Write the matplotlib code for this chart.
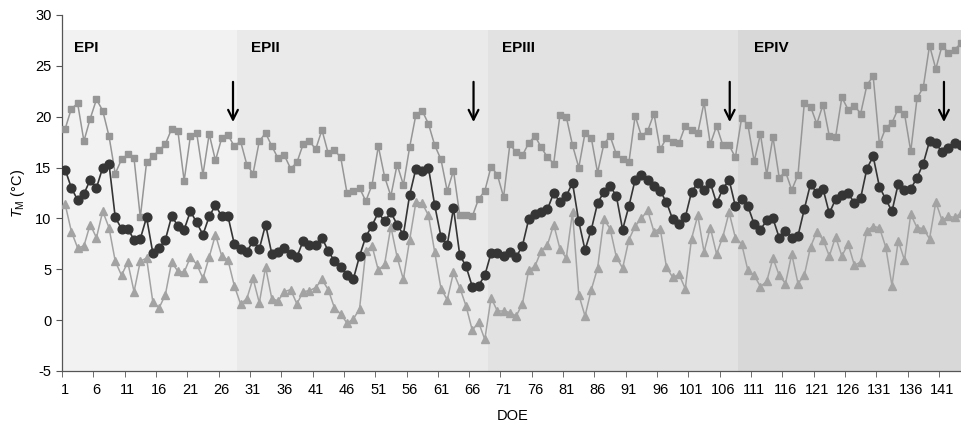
import numpy as np
import matplotlib
matplotlib.use("Agg")
import matplotlib.pyplot as plt

plt.rcParams['font.family'] = ['Liberation Sans', 'DejaVu Sans']
plt.rcParams['mathtext.fontset'] = 'custom'
plt.rcParams['mathtext.rm'] = 'Liberation Sans'
plt.rcParams['mathtext.it'] = 'Liberation Sans:italic'
plt.rcParams['axes.unicode_minus'] = False

# daily max / mean / min temperature, DOE 1..144
t_max = [18.8, 20.8, 21.3, 17.6, 19.8, 21.7, 20.6, 18.1, 14.4, 15.8,
         16.3, 15.9, 10.1, 15.5, 16.1, 16.7, 17.3, 18.8, 18.6, 13.7,
         18.1, 18.4, 14.3, 18.3, 15.7, 17.9, 18.2, 17.1, 17.6, 15.3,
         14.4, 17.6, 18.4, 17.1, 15.9, 16.2, 14.9, 15.5, 17.3, 17.6,
         16.8, 18.7, 16.4, 16.7, 16.0, 12.5, 12.7, 13.0, 11.7, 13.3,
         17.1, 14.1, 12.2, 15.3, 13.3, 17.0, 20.2, 20.6, 19.3, 17.2,
         15.8, 12.7, 14.7, 10.3, 10.3, 10.2, 11.9, 12.7, 15.1, 14.3,
         12.1, 17.3, 16.5, 16.2, 17.4, 18.1, 17.0, 16.0, 15.4, 20.2,
         20.0, 17.2, 15.0, 18.4, 17.9, 14.5, 17.3, 18.1, 16.3, 15.8,
         15.5, 20.1, 18.1, 18.6, 20.3, 16.8, 17.9, 17.5, 17.4, 19.1,
         18.7, 18.4, 21.4, 17.3, 19.1, 17.2, 17.2, 16.0, 19.9, 19.2,
         15.6, 18.3, 14.3, 18.0, 14.0, 14.6, 12.8, 14.3, 21.3, 21.0,
         19.3, 21.2, 18.1, 18.0, 21.9, 20.7, 21.1, 20.3, 23.1, 24.0,
         17.3, 18.9, 19.4, 20.8, 20.3, 16.6, 21.8, 22.9, 27.0, 24.7,
         27.0, 26.3, 26.6, 27.2]

t_mean = [14.8, 13.0, 11.8, 12.4, 13.8, 13.0, 15.0, 15.4, 10.1, 9.0,
          9.0, 7.9, 8.0, 10.1, 6.6, 7.1, 7.9, 10.2, 9.3, 8.9,
          10.7, 9.6, 8.4, 10.2, 11.3, 10.2, 10.2, 7.5, 7.0, 6.7,
          7.8, 7.0, 9.4, 6.5, 6.7, 7.1, 6.5, 6.2, 7.8, 7.4,
          7.4, 8.1, 6.8, 5.8, 5.2, 4.4, 4.0, 6.3, 8.2, 9.3,
          10.6, 9.7, 10.6, 9.4, 8.4, 12.3, 14.9, 14.7, 15.0, 11.3,
          8.2, 7.4, 11.0, 6.4, 5.3, 3.3, 3.4, 4.4, 6.6, 6.6,
          6.3, 6.7, 6.2, 7.3, 9.9, 10.4, 10.6, 10.9, 12.5, 11.6,
          12.2, 13.5, 9.7, 6.9, 8.9, 11.5, 12.6, 13.2, 12.2, 8.9,
          11.2, 13.8, 14.3, 13.8, 13.2, 12.7, 11.6, 9.9, 9.5, 10.1,
          12.6, 13.5, 12.8, 13.5, 11.5, 12.9, 13.8, 11.2, 11.9, 11.2,
          9.45, 8.9, 9.8, 10.0, 8.1, 8.8, 8.1, 8.3, 10.9, 13.4,
          12.5, 12.9, 10.5, 11.9, 12.3, 12.5, 11.5, 12.0, 14.9, 16.1,
          13.1, 11.9, 10.7, 13.4, 12.8, 12.9, 14.0, 15.4, 17.6, 17.4,
          16.5, 16.9, 17.4, 17.2]

t_min = [11.4, 8.7, 7.1, 7.3, 9.4, 8.1, 10.7, 9.1, 5.8, 4.4,
         5.7, 2.8, 5.8, 6.1, 1.8, 1.2, 2.5, 5.7, 4.8, 4.7,
         6.2, 5.5, 4.1, 6.2, 8.4, 6.3, 5.9, 3.4, 1.6, 2.1,
         4.1, 1.7, 5.2, 2.1, 1.9, 2.8, 3.0, 1.6, 2.8, 2.9,
         3.2, 4.0, 3.0, 1.2, 0.6, -0.3, 0.1, 1.1, 6.8, 7.3,
         4.9, 5.5, 9.2, 6.2, 4.0, 7.9, 11.6, 11.5, 10.3, 6.7,
         3.1, 2.0, 4.7, 3.2, 1.4, -1.0, -0.2, -1.9, 2.2, 0.9,
         0.9, 0.75, 0.4, 1.6, 4.9, 5.3, 6.8, 7.4, 9.4, 7.0,
         6.1, 10.6, 2.5, 0.4, 3.0, 5.1, 9.9, 9.0, 6.2, 5.1,
         7.9, 9.25, 10.0, 10.8, 8.7, 9.0, 5.2, 4.2, 4.5, 3.1,
         8.0, 10.3, 6.7, 9.1, 6.5, 8.2, 10.6, 8.1, 7.5, 4.9,
         4.4, 3.3, 3.8, 6.1, 4.4, 3.6, 6.5, 3.6, 4.4, 7.2,
         8.7, 7.9, 6.3, 8.2, 6.3, 7.5, 5.4, 5.7, 8.8, 9.2,
         9.1, 7.2, 3.4, 7.8, 5.9, 10.4, 9.1, 9.0, 8.0, 11.6,
         9.8, 10.2, 10.1, 10.5]

days = np.arange(1, len(t_mean) + 1)

# experimental periods
periods = ['EPI', 'EPII', 'EPIII', 'EPIV']
period_start = [0.5, 28.5, 68.5, 108.5]
period_end = [28.5, 68.5, 108.5, 144.5]
period_color = ['#f2f2f2', '#eaeaea', '#e2e2e2', '#d8d8d8']
label_x = [2.4, 30.6, 70.7, 110.9]
arrow_days = [27.8, 66.2, 107.1, 141.3]

fig = plt.figure(figsize=(9.62, 4.30), dpi=100)
ax = fig.add_axes([62 / 962, 59 / 430, 902 / 962, 356 / 430])

for s, e, c in zip(period_start, period_end, period_color):
    ax.bar(s, 28.5 + 5, bottom=-5, width=e - s, align='edge', color=c,
           linewidth=0, zorder=0)
for name, lx in zip(periods, label_x):
    ax.text(lx, 26.8, name, fontsize=11, fontweight='bold', va='center',
            ha='left', zorder=5)
for d in arrow_days:
    ax.annotate('', xy=(d, 19.2), xytext=(d, 23.7),
                arrowprops=dict(arrowstyle='->,head_width=0.35,head_length=0.7',
                                color='black', lw=1.6), zorder=6)

ax.plot(days, t_max, color='#969696', marker='s', markersize=4.6, lw=1.1,
        zorder=3)
ax.plot(days, t_min, color='#a3a3a3', marker='^', markersize=5.6, lw=1.1,
        zorder=3)
ax.plot(days, t_mean, color='#353535', marker='o', markersize=6.3, lw=1.2,
        zorder=4)

ax.set_xlim(0.5, 144.5)
ax.set_ylim(-5, 30)
ax.set_yticks(np.arange(-5, 31, 5))
ax.set_xticks(np.arange(1, 145, 5))
ax.set_xticks(np.arange(0.5, 145, 5), minor=True)
ax.tick_params(axis='x', which='major', length=0, labelsize=10.5, pad=9)
ax.tick_params(axis='x', which='minor', length=4, color='#555555')
ax.tick_params(axis='y', length=4, labelsize=10.5, color='#555555')
for side in ['top', 'right']:
    ax.spines[side].set_visible(False)
for side in ['left', 'bottom']:
    ax.spines[side].set_color('#555555')
    ax.spines[side].set_linewidth(0.9)

ax.set_xlabel('DOE', fontsize=10.5, labelpad=8)
ax.set_ylabel(r'$T_\mathrm{M}$ (°C)', fontsize=10.5, labelpad=6)

fig.savefig('out.png', dpi=100)
